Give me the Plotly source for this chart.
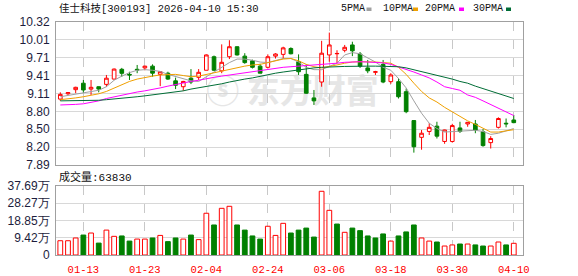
import plotly.graph_objects as go
import numpy as np

# ---------------- data ----------------
dates = ["01-08", "01-09", "01-12", "01-13", "01-14", "01-15", "01-16", "01-19", "01-20", "01-21",
         "01-22", "01-23", "01-26", "01-27", "01-28", "01-29", "01-30", "02-02", "02-03", "02-04",
         "02-05", "02-06", "02-09", "02-10", "02-11", "02-12", "02-13", "02-24", "02-25", "02-26",
         "02-27", "03-02", "03-03", "03-04", "03-05", "03-06", "03-09", "03-10", "03-11", "03-12",
         "03-13", "03-16", "03-17", "03-18", "03-19", "03-20", "03-23", "03-24", "03-25", "03-26",
         "03-27", "03-30", "03-31", "04-01", "04-02", "04-03", "04-07", "04-08", "04-09", "04-10"]

open_ = [9.01, 9.10, 9.17, 9.28, 9.18, 9.22, 9.26, 9.35, 9.516, 9.43,
         9.516, 9.54, 9.57, 9.43, 9.45, 9.32, 9.22, 9.365, 9.38, 9.50,
         9.73, 9.49, 9.73, 9.90, 9.74, 9.66, 9.57, 9.55, 9.74, 9.77,
         9.87, 9.645, 9.43, 9.03, 9.30, 9.76, 9.78, 9.84, 9.93, 9.776,
         9.54, 9.465, 9.60, 9.306, 9.306, 9.136, 8.645, 8.36, 8.46, 8.55,
         8.29, 8.29, 8.52, 8.587, 8.587, 8.456, 8.27, 8.53, 8.60, 8.655]
high = [9.125, 9.13, 9.22, 9.335, 9.335, 9.225, 9.42, 9.53, 9.54, 9.475,
        9.59, 9.575, 9.60, 9.48, 9.475, 9.375, 9.32, 9.52, 9.52, 9.77,
        9.75, 9.94, 10.01, 9.905, 9.79, 9.68, 9.61, 9.77, 9.79, 9.90,
        9.89, 9.77, 9.60, 9.165, 10.00, 10.14, 9.84, 9.93, 9.985, 9.81,
        9.675, 9.49, 9.675, 9.45, 9.365, 9.19, 8.65, 8.485, 8.60, 8.625,
        8.49, 8.59, 8.625, 8.615, 8.655, 8.50, 8.38, 8.70, 8.68, 8.74]
low = [8.98, 9.08, 9.11, 9.11, 9.08, 9.125, 9.22, 9.345, 9.39, 9.335,
       9.45, 9.50, 9.39, 9.23, 9.335, 9.18, 9.15, 9.265, 9.335, 9.50,
       9.49, 9.45, 9.69, 9.75, 9.61, 9.53, 9.45, 9.53, 9.70, 9.69,
       9.77, 9.42, 9.10, 8.91, 9.22, 9.645, 9.62, 9.805, 9.74, 9.54,
       9.45, 9.42, 9.28, 9.27, 9.02, 8.77, 8.10, 8.15, 8.40, 8.34,
       8.25, 8.27, 8.435, 8.54, 8.43, 8.20, 8.17, 8.51, 8.53, 8.60]
close = [9.09, 9.12, 9.21, 9.165, 9.21, 9.18, 9.365, 9.52, 9.448, 9.42,
         9.505, 9.57, 9.45, 9.475, 9.35, 9.245, 9.31, 9.30, 9.465, 9.76,
         9.50, 9.635, 9.90, 9.76, 9.63, 9.55, 9.45, 9.73, 9.776, 9.88,
         9.78, 9.475, 9.11, 8.98, 9.79, 9.93, 9.785, 9.89, 9.83, 9.57,
         9.49, 9.475, 9.30, 9.42, 9.05, 8.796, 8.20, 8.43, 8.53, 8.38,
         8.485, 8.56, 8.46, 8.615, 8.485, 8.22, 8.34, 8.68, 8.59, 8.61]

# volume in 万 (10k) shares
volume = [7.8, 7.8, 9.3, 10.9, 12.0, 6.5, 13.6, 10.2, 10.4, 7.6,
          8.7, 8.7, 9.3, 10.7, 7.3, 9.3, 8.7, 10.9, 8.4, 22.8,
          16.4, 25.5, 26.6, 16.4, 13.6, 10.4, 8.7, 15.7, 10.7, 17.3,
          12.0, 13.6, 14.7, 9.8, 34.8, 24.4, 16.9, 12.4, 14.7, 13.3,
          10.4, 9.3, 11.5, 7.6, 10.4, 12.6, 16.4, 9.3, 7.6, 7.1,
          4.9, 5.5, 6.0, 6.0, 5.5, 4.9, 4.9, 7.1, 5.5, 6.383]

ma5 = [9.05, 9.07, 9.10, 9.12, 9.14, 9.16, 9.22, 9.33, 9.40, 9.46,
       9.50, 9.51, 9.50, 9.48, 9.43, 9.39, 9.35, 9.32, 9.31, 9.39,
       9.47, 9.55, 9.63, 9.69, 9.69, 9.67, 9.64, 9.63, 9.67, 9.70,
       9.70, 9.64, 9.55, 9.51, 9.51, 9.56, 9.62, 9.76, 9.80, 9.78,
       9.71, 9.64, 9.55, 9.50, 9.36, 9.20, 8.98, 8.77, 8.60, 8.51,
       8.45, 8.46, 8.47, 8.48, 8.48, 8.46, 8.41, 8.43, 8.47, 8.51]
ma10 = [9.00, 9.01, 9.03, 9.05, 9.07, 9.10, 9.14, 9.20, 9.26, 9.31,
        9.35, 9.38, 9.40, 9.42, 9.43, 9.43, 9.41, 9.39, 9.40, 9.43,
        9.46, 9.49, 9.52, 9.55, 9.57, 9.59, 9.60, 9.63, 9.66, 9.69,
        9.70, 9.66, 9.60, 9.56, 9.54, 9.56, 9.59, 9.62, 9.64, 9.645,
        9.645, 9.64, 9.63, 9.62, 9.55, 9.43, 9.28, 9.14, 9.03, 8.96,
        8.87, 8.79, 8.71, 8.64, 8.58, 8.51, 8.45, 8.45, 8.47, 8.49]
ma20 = [8.91, 8.91, 8.92, 8.93, 8.95, 8.98, 9.02, 9.05, 9.08, 9.11,
        9.13, 9.15, 9.17, 9.20, 9.23, 9.26, 9.29, 9.31, 9.33, 9.36,
        9.38, 9.40, 9.42, 9.44, 9.46, 9.48, 9.50, 9.52, 9.53, 9.55,
        9.56, 9.57, 9.58, 9.585, 9.59, 9.60, 9.62, 9.635, 9.645, 9.645,
        9.64, 9.63, 9.625, 9.60, 9.56, 9.52, 9.47, 9.42, 9.37, 9.30,
        9.22, 9.19, 9.16, 9.08, 9.04, 8.98, 8.92, 8.86, 8.79, 8.73]
ma30 = [8.98, 8.98, 8.985, 8.985, 8.99, 8.99, 9.00, 9.01, 9.02, 9.035,
        9.05, 9.065, 9.08, 9.10, 9.115, 9.13, 9.15, 9.18, 9.20, 9.23,
        9.25, 9.27, 9.30, 9.33, 9.35, 9.37, 9.40, 9.43, 9.45, 9.47,
        9.49, 9.51, 9.53, 9.54, 9.55, 9.56, 9.56, 9.565, 9.57, 9.57,
        9.57, 9.57, 9.57, 9.565, 9.56, 9.54, 9.51, 9.48, 9.45, 9.42,
        9.38, 9.35, 9.31, 9.28, 9.23, 9.19, 9.15, 9.11, 9.06, 9.02]

price_tick_labels = ["7.89", "8.20", "8.50", "8.80", "9.11", "9.41", "9.71", "10.01", "10.32"]
vol_tick_labels = ["0", "9.42万", "18.85万", "28.27万", "37.69万"]
x_tick_dates = ["01-13", "01-23", "02-04", "02-24", "03-06", "03-18", "03-30", "04-10"]
title_text = "佳士科技[300193] 2026-04-10 15:30"
volume_label = "成交量:63830"
ma_names = ["5PMA", "10PMA", "20PMA", "30PMA"]

# ---------------- styling ----------------
W, H = 578, 276
ML, MR, MT, MB = 56, 55, 22, 21
PW, PH = W - ML - MR, H - MT - MB
RED = "#ff0000"
GREEN = "#008000"
MA_COLORS = ["#a0a0a0", "#f0a000", "#ff00ff", "#006d36"]
FRAME = "#a0a0a0"
GRID = "#d8d8d8"
VGRID = "#c8c8c8"
MONO = "Liberation Mono, Noto Sans CJK SC, monospace"
SANS = "Liberation Sans, Arial, sans-serif"


def px_x(px):
    return (px - ML) / PW


def px_y(py):
    return (H - MB - py) / PH


p_min, p_max = float(price_tick_labels[0]), float(price_tick_labels[-1])
v_max = float(vol_tick_labels[-1].replace("万", ""))
price_tickvals = np.linspace(p_min, p_max, len(price_tick_labels))
vol_tickvals = np.linspace(0, v_max, len(vol_tick_labels))

vol_up = [True] + [close[i] >= close[i - 1] for i in range(1, len(close))]

fig = go.Figure()

fig.add_trace(go.Candlestick(
    x=dates, open=open_, high=high, low=low, close=close,
    increasing=dict(line=dict(color=RED, width=1), fillcolor="white"),
    decreasing=dict(line=dict(color=GREEN, width=1), fillcolor=GREEN),
    whiskerwidth=0, xaxis="x", yaxis="y", showlegend=False, hoverinfo="skip",
))

for name, vals, col in zip(ma_names, [ma5, ma10, ma20, ma30], MA_COLORS):
    fig.add_trace(go.Scatter(x=dates, y=vals, mode="lines", name=name,
                             line=dict(color=col, width=1), xaxis="x", yaxis="y",
                             showlegend=False, hoverinfo="skip"))

fig.add_trace(go.Bar(
    x=dates, y=volume, xaxis="x2", yaxis="y2", width=0.62,
    marker=dict(color=["white" if u else GREEN for u in vol_up],
                line=dict(color=[RED if u else GREEN for u in vol_up], width=1)),
    showlegend=False, hoverinfo="skip",
))

x_range = [-0.56, len(dates) - 1 + 1.2]
common_x = dict(type="category", range=x_range, tickvals=x_tick_dates, ticktext=x_tick_dates,
                showgrid=True, gridcolor=VGRID, griddash="dash", gridwidth=1,
                showline=True, mirror=True, linecolor=FRAME, linewidth=1,
                zeroline=False, ticks="", fixedrange=True, automargin=False)

common_y = dict(showgrid=True, gridcolor=GRID, gridwidth=1,
                showline=True, mirror=True, linecolor=FRAME, linewidth=1, zeroline=False,
                ticks="", tickfont=dict(family=SANS, size=12, color="#1c1c3c"),
                ticklabelstandoff=3, fixedrange=True, automargin=False)

fig.update_layout(
    width=W, height=H,
    margin=dict(l=ML, r=MR, t=MT, b=MB, pad=0, autoexpand=False),
    paper_bgcolor="white", plot_bgcolor="white",
    boxgap=0.32,
    bargap=0.3,
    showlegend=False,
    xaxis=dict(common_x, anchor="y", domain=[0, 1], showticklabels=False,
               rangeslider=dict(visible=False)),
    xaxis2=dict(common_x, anchor="y2", domain=[0, 1], showticklabels=True,
                tickfont=dict(family=MONO, size=10.5, color=RED), ticklabelstandoff=4),
    yaxis=dict(common_y, domain=[px_y(165), 1], range=[p_min, p_max],
               tickvals=price_tickvals, ticktext=price_tick_labels),
    yaxis2=dict(common_y, domain=[0, px_y(186)], range=[0, v_max],
                tickvals=vol_tickvals, ticktext=vol_tick_labels),
)

annotations = [
    dict(text=title_text, x=px_x(57), y=px_y(9), xref="paper", yref="paper",
         xanchor="left", yanchor="middle", showarrow=False,
         font=dict(family=MONO, size=10.5, color="#111111")),
    dict(text=volume_label, x=px_x(57), y=px_y(177), xref="paper", yref="paper",
         xanchor="left", yanchor="middle", showarrow=False,
         font=dict(family=MONO, size=11, color="#111111")),
]
legend_text_x = [339, 381, 423, 471]
legend_sq_x = [366.5, 413, 459, 506]
shapes = []
for name, col, tx, sx in zip(ma_names, MA_COLORS, legend_text_x, legend_sq_x):
    annotations.append(dict(text=name, x=px_x(tx), y=px_y(9), xref="paper", yref="paper",
                            xanchor="left", yanchor="middle", showarrow=False,
                            font=dict(family=MONO, size=10, color="#111111")))
    shapes.append(dict(type="rect", xref="paper", yref="paper",
                       x0=px_x(sx), x1=px_x(sx + 5), y0=px_y(11), y1=px_y(7.5),
                       fillcolor=col, line=dict(width=0)))

# watermark behind the data
shapes.append(dict(type="rect", xref="paper", yref="paper", layer="below",
                   x0=px_x(200), x1=px_x(385), y0=px_y(113), y1=px_y(74),
                   fillcolor="rgba(0,0,0,0)", line=dict(width=0),
                   label=dict(text="ⓢ 东方财富", font=dict(family="Noto Sans CJK SC", size=33,
                                                        color="#e6e6e6", weight="bold"),
                              textposition="middle center")))

fig.update_layout(annotations=annotations, shapes=shapes)

fig.write_html("out.html")
